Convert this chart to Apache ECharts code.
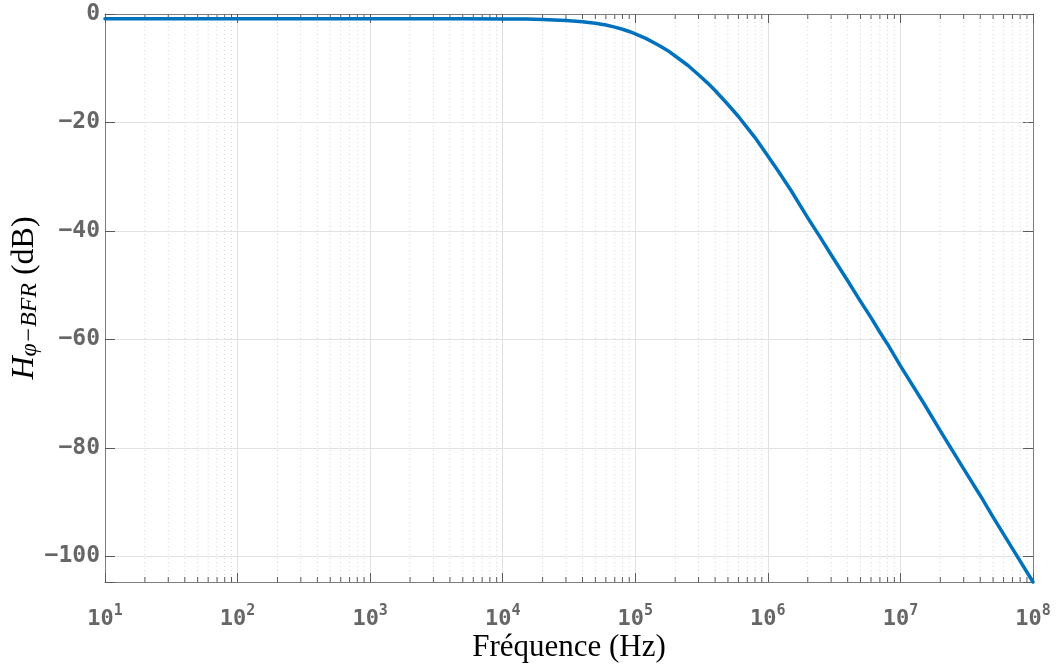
<!DOCTYPE html>
<html>
<head>
<meta charset="utf-8">
<script src="https://cdn.jsdelivr.net/npm/echarts@6/dist/echarts.min.js"></script>
<style>
html,body{margin:0;padding:0;background:#fff;overflow:hidden;}
#chart{width:1057px;height:664px;}
</style>
</head>
<body>
<div id="chart"></div>
<script>
// Frequency (Hz) and magnitude (dB)
const freqHz = [10, 100, 1e3, 5e3, 1e4, 1.5e4, 2e4, 3e4, 4e4, 5e4, 6e4, 7e4, 8e4, 9e4,
  1e5, 1.2e5, 1.5e5, 1.75e5, 2e5, 2.5e5, 3e5, 3.5e5, 4e5, 5e5, 6e5, 7e5, 8e5,
  1e6, 1.2e6, 1.5e6, 2e6, 2.5e6, 3e6, 4e6, 5e6, 6e6, 7e6, 8e6,
  1e7, 1.5e7, 2e7, 3e7, 4e7, 5e7, 7e7, 1e8];
const gainDb = [-0.86, -0.86, -0.86, -0.87, -0.90, -0.94, -1.01, -1.18, -1.42, -1.71, -2.04, -2.42, -2.82, -3.22,
  -3.65, -4.5, -5.75, -6.72, -7.75, -9.5, -11.2, -12.7, -14.1, -16.7, -18.9, -21.0, -22.8,
  -26.2, -29.0, -32.6, -37.6, -41.3, -44.4, -49.2, -53.0, -56.0, -58.7, -60.9,
  -64.9, -71.8, -76.9, -83.9, -88.8, -92.8, -98.6, -104.76];

// Axis ranges and tick structure
const xMin = 10, xMax = 1e8;
const yMin = -104.76, yMax = 0;
const decades = [10, 100, 1e3, 1e4, 1e5, 1e6, 1e7];
const minorMultipliers = [2, 3, 4, 5, 6, 7, 8, 9];
const xTitle = 'Fréquence (Hz)';

const minorTicks = [];
decades.forEach(d => minorMultipliers.forEach(m => minorTicks.push([d * m, 0])));

const axisColor = '#7d7d7d';
const tickColor = '#5a5a5a';
const labelColor = '#666666';

const chart = echarts.init(document.getElementById('chart'), null, {renderer: 'canvas'});

function yLabel(v) {
  if (Math.abs(v % 20) > 1e-6) return '';
  return v < 0 ? '\u2212' + Math.round(-v) : String(Math.round(v));
}

const option = {
  animation: false,
  backgroundColor: '#ffffff',
  grid: {left: 105, right: 24, top: 14, bottom: 82, containLabel: false, outerBoundsMode: 'none'},
  xAxis: [
    {
      type: 'log', logBase: 10, min: xMin, max: xMax, splitNumber: 7, position: 'bottom',
      axisLine: {show: true, onZero: false, lineStyle: {color: axisColor, width: 1}},
      axisTick: {show: true, inside: true, length: 9, lineStyle: {color: tickColor, width: 1}},
      axisLabel: {
        show: true, margin: 22,
        formatter: v => '{b|10}{s|' + Math.round(Math.log10(v)) + '}',
        rich: {
          b: {fontFamily: 'DejaVu Sans Mono', fontWeight: 'bold', fontSize: 22, color: labelColor, lineHeight: 26, verticalAlign: 'bottom'},
          s: {fontFamily: 'DejaVu Sans Mono', fontWeight: 'bold', fontSize: 15, color: labelColor, lineHeight: 12, verticalAlign: 'top'}
        }
      },
      splitLine: {show: true, lineStyle: {color: '#e2e2e2', width: 1}},
      name: xTitle, nameLocation: 'middle', nameGap: 50, nameMoveOverlap: false,
      nameTextStyle: {fontFamily: 'Liberation Serif', fontSize: 31, color: '#000'}
    },
    {
      type: 'log', logBase: 10, min: xMin, max: xMax, splitNumber: 7, position: 'top',
      axisLine: {show: true, onZero: false, lineStyle: {color: axisColor, width: 1}},
      axisTick: {show: true, inside: true, length: 9, lineStyle: {color: tickColor, width: 1}},
      axisLabel: {show: false},
      splitLine: {show: false}
    }
  ],
  yAxis: [
    {
      type: 'value', min: yMin, max: yMax, splitNumber: 5, position: 'left',
      axisLine: {show: true, onZero: false, lineStyle: {color: axisColor, width: 1}},
      axisTick: {show: true, inside: true, length: 10, lineStyle: {color: tickColor, width: 1}},
      axisLabel: {
        show: true, margin: 5, formatter: yLabel,
        fontFamily: 'DejaVu Sans Mono', fontWeight: 'bold', fontSize: 23, color: labelColor
      },
      splitLine: {show: true, lineStyle: {color: '#e2e2e2', width: 1}},
      name: '{h|H}{s|\u03c6\u2212BFR}{r| (dB)}',
      nameLocation: 'middle', nameGap: 63, nameRotate: 90, nameMoveOverlap: false,
      nameTextStyle: {
        rich: {
          h: {fontFamily: 'Liberation Serif', fontStyle: 'italic', fontSize: 32, color: '#000', lineHeight: 34, verticalAlign: 'middle'},
          s: {fontFamily: 'Liberation Serif', fontStyle: 'italic', fontSize: 24, color: '#000', lineHeight: 14, verticalAlign: 'bottom'},
          r: {fontFamily: 'Liberation Serif', fontSize: 32, color: '#000', lineHeight: 34, verticalAlign: 'middle'}
        }
      }
    },
    {
      type: 'value', min: yMin, max: yMax, splitNumber: 5, position: 'right',
      axisLine: {show: true, onZero: false, lineStyle: {color: axisColor, width: 1}},
      axisTick: {show: true, inside: true, length: 10, lineStyle: {color: tickColor, width: 1}},
      axisLabel: {show: false},
      splitLine: {show: false}
    }
  ],
  series: [
    {
      type: 'custom', xAxisIndex: 0, yAxisIndex: 0, z: 1, silent: true,
      data: minorTicks,
      encode: {x: 0, y: 1},
      renderItem: function (params, api) {
        const v = api.value(0);
        const top = api.coord([v, yMax]);
        const bot = api.coord([v, yMin]);
        return {
          type: 'group',
          children: [
            {type: 'line', shape: {x1: top[0], y1: top[1], x2: bot[0], y2: bot[1]},
             style: {stroke: '#d6d6d6', lineWidth: 1, lineDash: [1, 3]}},
            {type: 'line', shape: {x1: bot[0], y1: bot[1], x2: bot[0], y2: bot[1] - 5},
             style: {stroke: tickColor, lineWidth: 1}},
            {type: 'line', shape: {x1: top[0], y1: top[1], x2: top[0], y2: top[1] + 5},
             style: {stroke: tickColor, lineWidth: 1}}
          ]
        };
      }
    },
    {
      type: 'line', xAxisIndex: 0, yAxisIndex: 0, z: 5,
      data: freqHz.map((f, i) => [f, gainDb[i]]),
      showSymbol: false, smooth: false, clip: false,
      lineStyle: {color: '#0072BD', width: 3.5, join: 'round', cap: 'round'},
      itemStyle: {color: '#0072BD'}
    }
  ]
};
chart.setOption(option);
</script>
</body>
</html>
